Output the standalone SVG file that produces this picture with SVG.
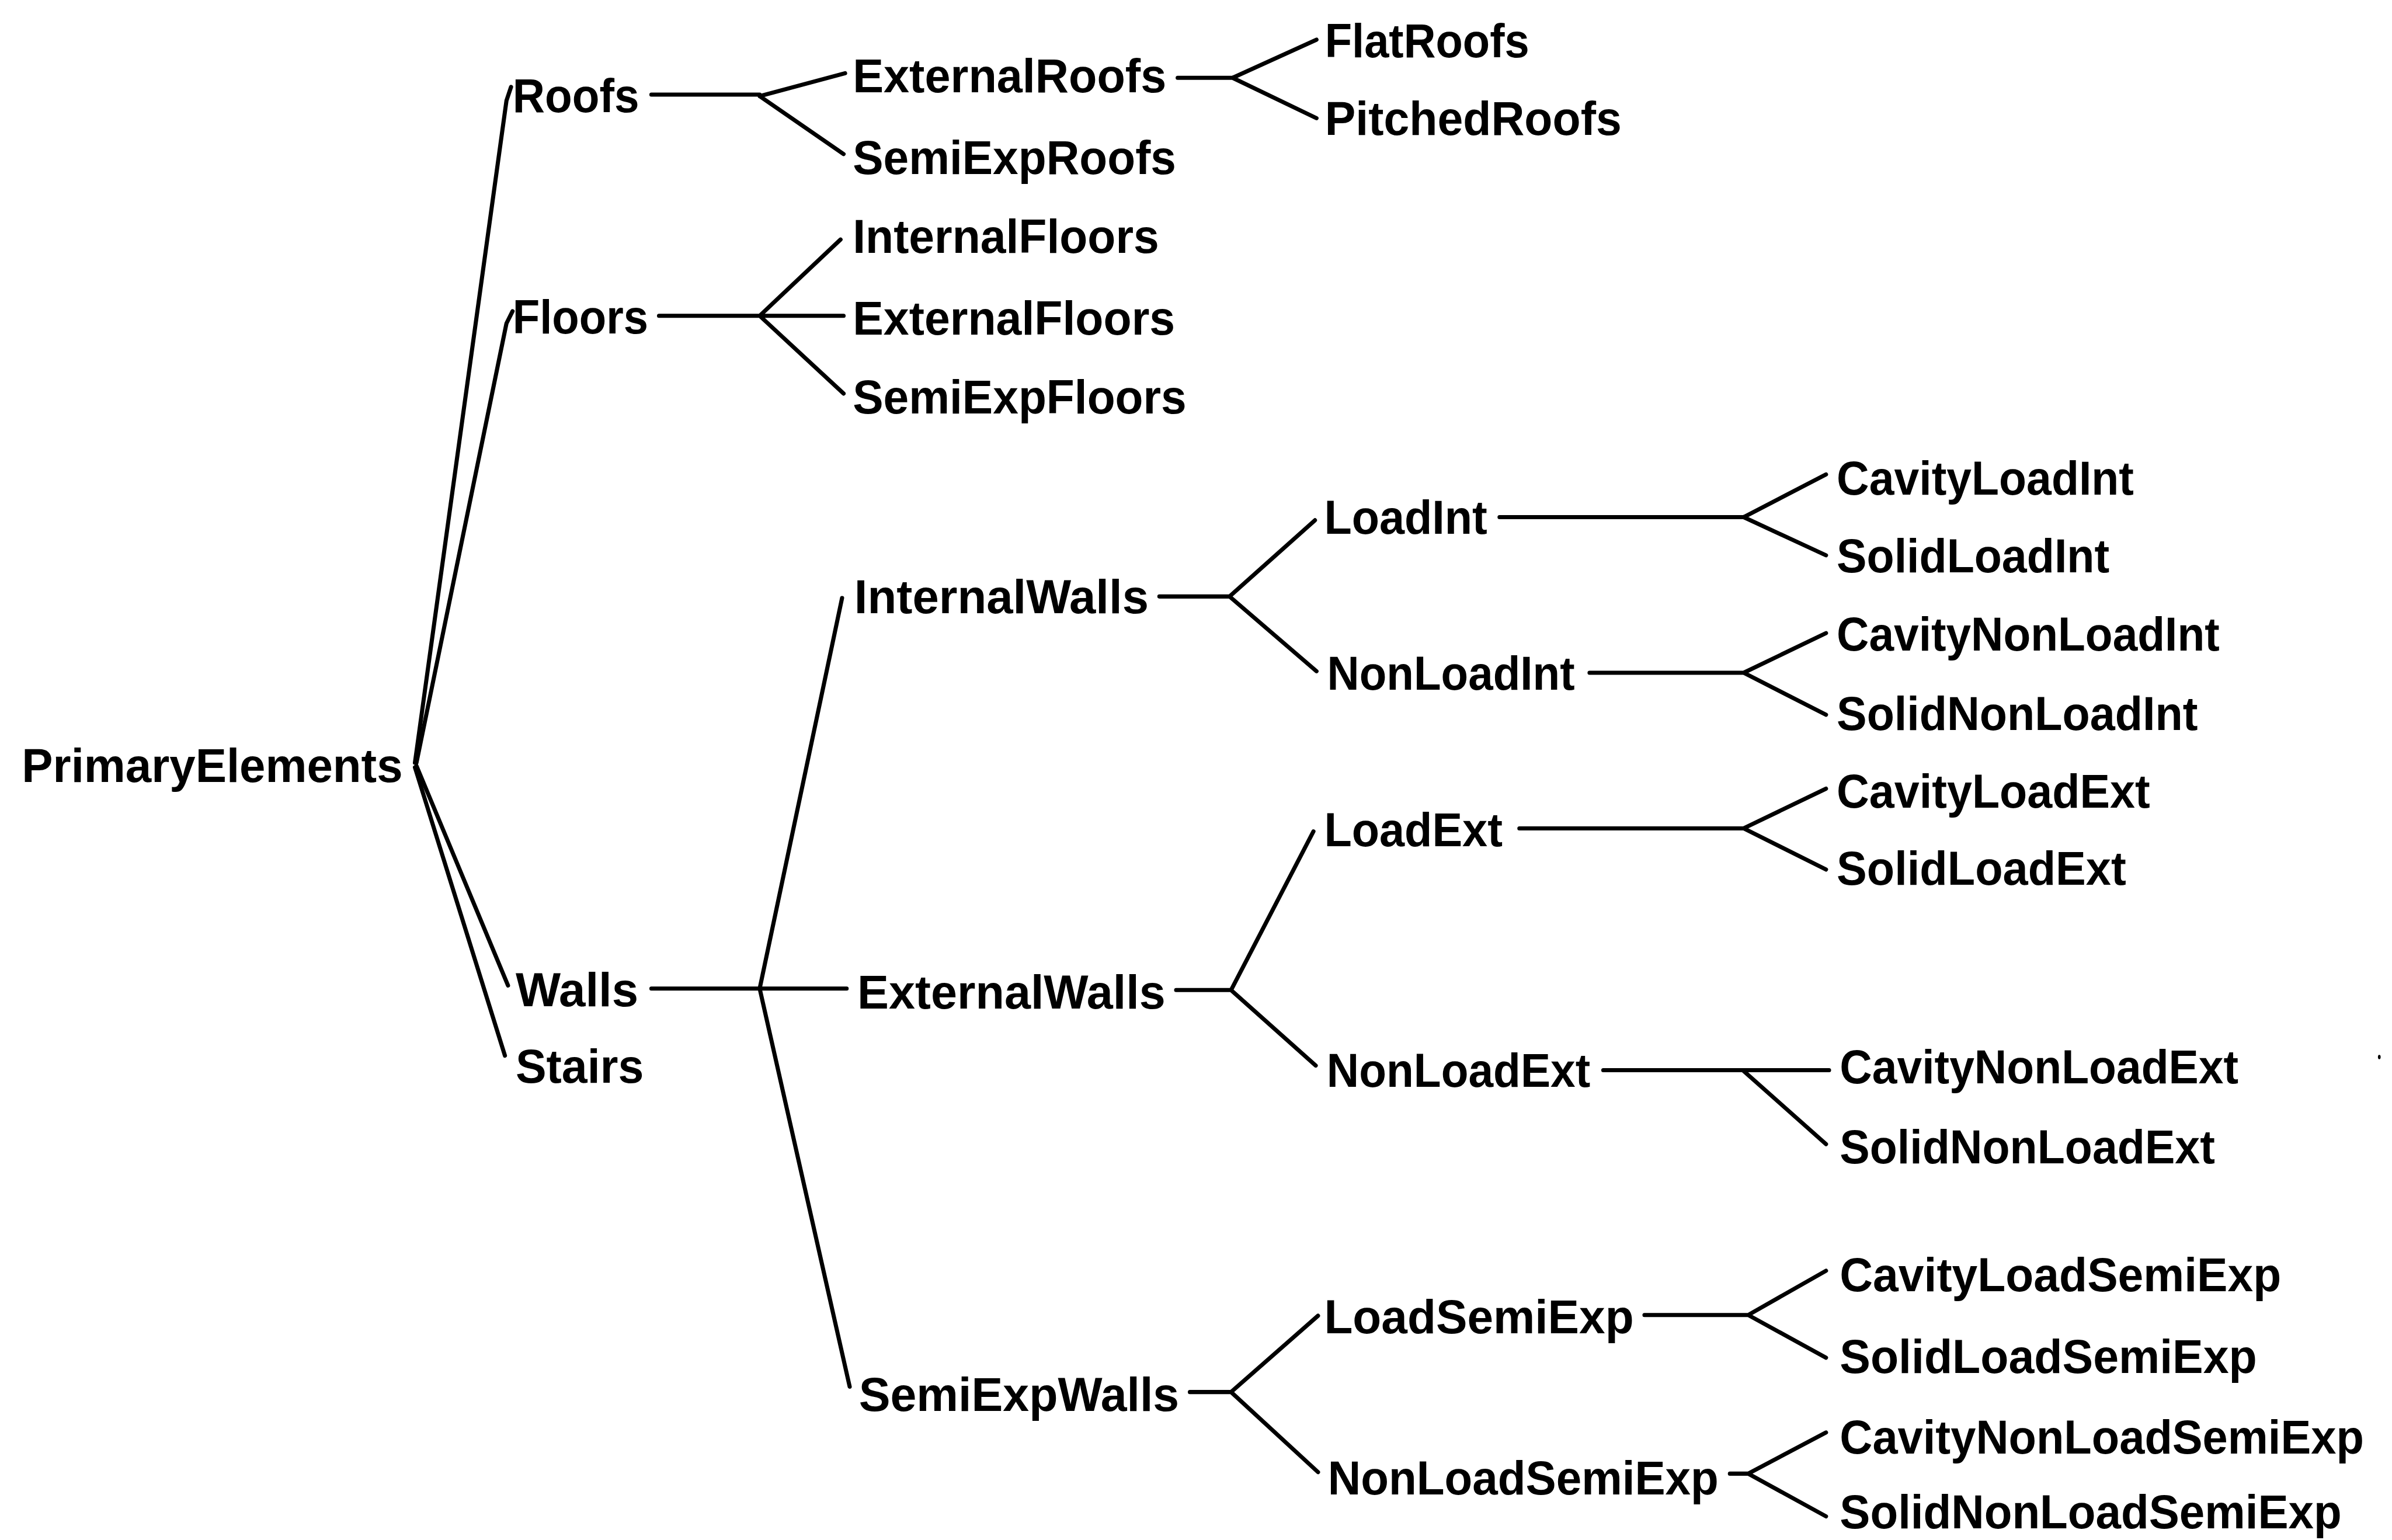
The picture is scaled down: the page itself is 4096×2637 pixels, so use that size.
<svg xmlns="http://www.w3.org/2000/svg" width="4096" height="2637" viewBox="0 0 4096 2637">
  <style>
    .lbl { font-family: "Liberation Sans", Arial, sans-serif; font-weight: bold; font-size: 31px; fill: #000; }
    .wire { fill: none; stroke: #000; stroke-width: 2.7; stroke-linecap: round; stroke-linejoin: round; }
  </style>
  <rect width="4096" height="2637" fill="#fff"/>
  <!-- layout is written in a 1568-wide grid and scaled up to the canvas -->
  <g transform="scale(2.6122)">
    <g id="connectors" class="wire">
      <!-- root fan -->
      <path d="M272,500 L332,66 L335,57"/>
      <path d="M273,500 L332,212 L336,204"/>
      <path d="M273,502 L333,646"/>
      <path d="M272,503 L331,692"/>
      <!-- Roofs -->
      <path d="M427,62 H498 M498,63 L554,48 M498,63 L553,101"/>
      <!-- Floors -->
      <path d="M432,207 H498 M498,207 L551,157 M498,207 H553 M498,207 L553,258"/>
      <!-- ExternalRoofs -->
      <path d="M772,51 H808 M808,51 L863,26 M808,51 L863,77.5"/>
      <!-- Walls -->
      <path d="M427,648 H555 M498,648 L552,392 M498,648 L557,909"/>
      <!-- InternalWalls -->
      <path d="M760,391 H806 M806,391 L862,341 M806,391 L863,440"/>
      <!-- ExternalWalls -->
      <path d="M771,649 H807 M807,649 L861,545 M807,649 L862.5,698.5"/>
      <!-- SemiExpWalls -->
      <path d="M780,912.5 H807 M807,912.5 L864,862.5 M807,912.5 L864,965"/>
      <!-- LoadInt -->
      <path d="M983,339 H1143 M1143,339 L1197,311 M1143,339 L1197,364"/>
      <!-- NonLoadInt -->
      <path d="M1042,441 H1143 M1143,441 L1197,415 M1143,441 L1197,468.5"/>
      <!-- LoadExt -->
      <path d="M996,543 H1143 M1143,543 L1197,517 M1143,543 L1197,570"/>
      <!-- NonLoadExt -->
      <path d="M1051,701.5 H1199 M1143,702 L1197,750"/>
      <!-- LoadSemiExp -->
      <path d="M1078,862 H1146 M1146,862 L1197,833 M1146,862 L1197,890"/>
      <!-- NonLoadSemiExp -->
      <path d="M1134,966 H1146 M1146,966 L1197,939 M1146,966 L1197,994"/>
    </g>

    <g id="n-PrimaryElements"><text class="lbl" x="14.3" y="512.7" textLength="249.7" lengthAdjust="spacingAndGlyphs">PrimaryElements</text></g>
    <g id="n-Roofs"><text class="lbl" x="336" y="73.5" textLength="83" lengthAdjust="spacingAndGlyphs">Roofs</text></g>
    <g id="n-Floors"><text class="lbl" x="336" y="218.5" textLength="89" lengthAdjust="spacingAndGlyphs">Floors</text></g>
    <g id="n-Walls"><text class="lbl" x="338" y="659.7" textLength="80.5" lengthAdjust="spacingAndGlyphs">Walls</text></g>
    <g id="n-Stairs"><text class="lbl" x="338" y="709.7" textLength="84" lengthAdjust="spacingAndGlyphs">Stairs</text></g>

    <g id="n-ExternalRoofs"><text class="lbl" x="559" y="60.6" textLength="205.6" lengthAdjust="spacingAndGlyphs">ExternalRoofs</text></g>
    <g id="n-SemiExpRoofs"><text class="lbl" x="559" y="114.2" textLength="212" lengthAdjust="spacingAndGlyphs">SemiExpRoofs</text></g>
    <g id="n-InternalFloors"><text class="lbl" x="559" y="165.9" textLength="200.8" lengthAdjust="spacingAndGlyphs">InternalFloors</text></g>
    <g id="n-ExternalFloors"><text class="lbl" x="559" y="219.5" textLength="211.3" lengthAdjust="spacingAndGlyphs">ExternalFloors</text></g>
    <g id="n-SemiExpFloors"><text class="lbl" x="559" y="271.2" textLength="218.8" lengthAdjust="spacingAndGlyphs">SemiExpFloors</text></g>
    <g id="n-FlatRoofs"><text class="lbl" x="868.5" y="37.7" textLength="134" lengthAdjust="spacingAndGlyphs">FlatRoofs</text></g>
    <g id="n-PitchedRoofs"><text class="lbl" x="868.5" y="88.4" textLength="194.5" lengthAdjust="spacingAndGlyphs">PitchedRoofs</text></g>

    <g id="n-InternalWalls"><text class="lbl" x="560" y="401.8" textLength="193" lengthAdjust="spacingAndGlyphs">InternalWalls</text></g>
    <g id="n-ExternalWalls"><text class="lbl" x="562" y="661.3" textLength="202" lengthAdjust="spacingAndGlyphs">ExternalWalls</text></g>
    <g id="n-SemiExpWalls"><text class="lbl" x="563" y="925" textLength="210" lengthAdjust="spacingAndGlyphs">SemiExpWalls</text></g>

    <g id="n-LoadInt"><text class="lbl" x="868" y="350" textLength="107" lengthAdjust="spacingAndGlyphs">LoadInt</text></g>
    <g id="n-NonLoadInt"><text class="lbl" x="870" y="452.2" textLength="162.3" lengthAdjust="spacingAndGlyphs">NonLoadInt</text></g>
    <g id="n-LoadExt"><text class="lbl" x="868" y="554.8" textLength="117" lengthAdjust="spacingAndGlyphs">LoadExt</text></g>
    <g id="n-NonLoadExt"><text class="lbl" x="869.7" y="712.6" textLength="172.8" lengthAdjust="spacingAndGlyphs">NonLoadExt</text></g>
    <g id="n-LoadSemiExp"><text class="lbl" x="868" y="874" textLength="203" lengthAdjust="spacingAndGlyphs">LoadSemiExp</text></g>
    <g id="n-NonLoadSemiExp"><text class="lbl" x="870.4" y="979.5" textLength="256.2" lengthAdjust="spacingAndGlyphs">NonLoadSemiExp</text></g>

    <g id="n-CavityLoadInt"><text class="lbl" x="1204" y="324.3" textLength="194.8" lengthAdjust="spacingAndGlyphs">CavityLoadInt</text></g>
    <g id="n-SolidLoadInt"><text class="lbl" x="1204" y="375" textLength="178.8" lengthAdjust="spacingAndGlyphs">SolidLoadInt</text></g>
    <g id="n-CavityNonLoadInt"><text class="lbl" x="1204" y="426.6" textLength="251" lengthAdjust="spacingAndGlyphs">CavityNonLoadInt</text></g>
    <g id="n-SolidNonLoadInt"><text class="lbl" x="1204" y="478.4" textLength="236.7" lengthAdjust="spacingAndGlyphs">SolidNonLoadInt</text></g>
    <g id="n-CavityLoadExt"><text class="lbl" x="1204" y="529.3" textLength="205.4" lengthAdjust="spacingAndGlyphs">CavityLoadExt</text></g>
    <g id="n-SolidLoadExt"><text class="lbl" x="1204" y="580" textLength="189.8" lengthAdjust="spacingAndGlyphs">SolidLoadExt</text></g>
    <g id="n-CavityNonLoadExt"><text class="lbl" x="1206" y="710.3" textLength="261.4" lengthAdjust="spacingAndGlyphs">CavityNonLoadExt</text></g>
    <g id="n-SolidNonLoadExt"><text class="lbl" x="1206" y="762.5" textLength="246" lengthAdjust="spacingAndGlyphs">SolidNonLoadExt</text></g>
    <g id="n-CavityLoadSemiExp"><text class="lbl" x="1206" y="846.4" textLength="289.4" lengthAdjust="spacingAndGlyphs">CavityLoadSemiExp</text></g>
    <g id="n-SolidLoadSemiExp"><text class="lbl" x="1206" y="900" textLength="273.5" lengthAdjust="spacingAndGlyphs">SolidLoadSemiExp</text></g>
    <g id="n-CavityNonLoadSemiExp"><text class="lbl" x="1206" y="953" textLength="343.6" lengthAdjust="spacingAndGlyphs">CavityNonLoadSemiExp</text></g>
    <g id="n-SolidNonLoadSemiExp"><text class="lbl" x="1206" y="1002" textLength="329" lengthAdjust="spacingAndGlyphs">SolidNonLoadSemiExp</text></g>

    <!-- stray mark at the right margin -->
    <ellipse cx="1559.7" cy="692.9" rx="0.9" ry="1.4" fill="#000"/>
  </g>
</svg>
